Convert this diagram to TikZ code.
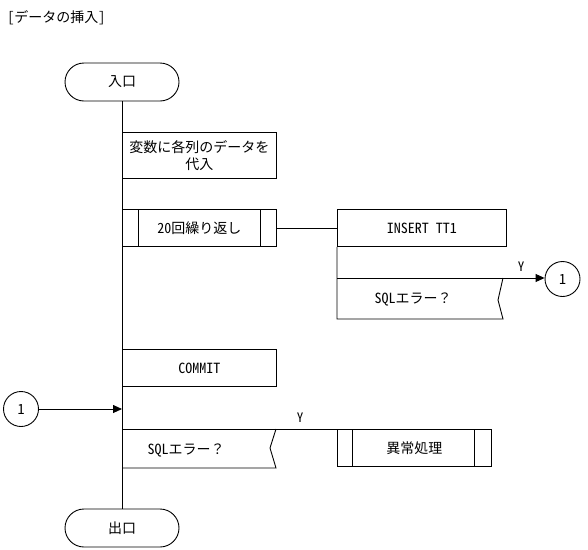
\documentclass[tikz,border=0pt]{standalone}
\usepackage{fontspec}
\setmainfont{Noto Sans CJK JP}
\newfontfamily\hw[RawFeature=+hwid]{Noto Sans CJK JP}
\usetikzlibrary{shapes.misc,arrows.meta}
\begin{document}
\begin{tikzpicture}[x=1pt,y=-1pt, line width=0.9pt,
  every node/.style={font=\fontsize{14}{17}\selectfont, inner sep=0pt},
  term/.style={draw, rounded rectangle, minimum width=114pt, minimum height=38pt},
  proc/.style={draw, rectangle, anchor=north west, minimum width=154pt, minimum height=37pt},
  conn/.style={draw, circle, minimum size=35pt},
  lbl/.style={font=\fontsize{13}{14}\selectfont\hw},
  arr/.style={-{Triangle[length=9pt,width=8pt]}}
]
\useasboundingbox (0,0) rectangle (588,549);
% title
\node[anchor=west] (title) at (7,18) {{\hw[}データの挿入{\hw]}};
% terminals
\node[term] (entry) at (122,82) {入口};
\node[term] (exit) at (122,528) {出口};
% main line
\draw (entry.south) -- (exit.north);
% process boxes
\node[proc, minimum height=46pt, align=center] (assign) at (122,132) {変数に各列のデータを\\代入};
\node[proc] (loop) at (122,209) {{\hw 20}回繰り返し};
\draw ([xshift=16pt]loop.north west) -- ([xshift=16pt]loop.south west);
\draw ([xshift=-16pt]loop.north east) -- ([xshift=-16pt]loop.south east);
\node[proc, minimum width=169pt] (insert) at (337,209) {\hw INSERT TT1};
\draw (loop.east) -- (insert.west);
% first error check
\coordinate (e1tl) at (337,278);
\coordinate (e1bl) at (337,319);
\draw (insert.south west) -- (e1bl) -- (503,319) -- (498,300) -- (503,278);
\node (err1) at (413,299) {{\hw SQL}エラー？};
\node[conn] (c1) at (562.5,279) {\hw 1};
\draw[arr] (e1tl) -- (e1tl -| c1.west);
\node[lbl] (y1) at (521,267) {Y};
% commit
\node[proc] (commit) at (122,349) {\hw COMMIT};
% left connector
\node[conn] (c2) at (21,409) {\hw 1};
\coordinate (join) at (122,409);
\draw[arr] (c2.east) -- (join);
% second error check
\node[proc] (anom) at (337,429) {異常処理};
\draw ([xshift=15pt]anom.north west) -- ([xshift=15pt]anom.south west);
\draw ([xshift=-17pt]anom.north east) -- ([xshift=-17pt]anom.south east);
\coordinate (e2tl) at (122,429);
\coordinate (e2bl) at (122,468);
\draw (e2tl) -- (anom.north west);
\draw (276,429) -- (270,448) -- (276,468) -- (e2bl);
\node (err2) at (186,450) {{\hw SQL}エラー？};
\node[lbl] (y2) at (300,418) {Y};
\end{tikzpicture}
\end{document}
